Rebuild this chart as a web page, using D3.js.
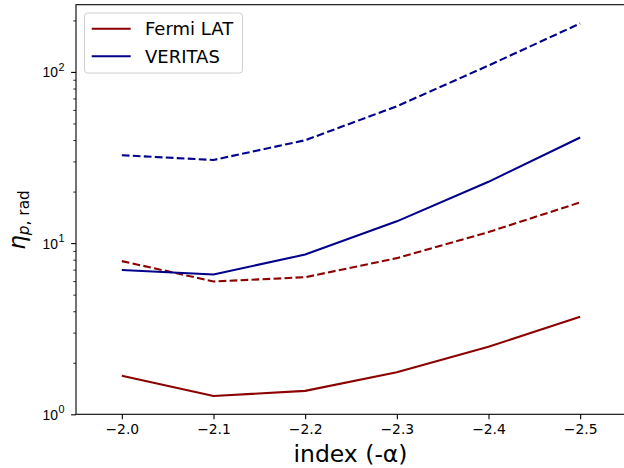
<!DOCTYPE html>
<html>
<head>
<meta charset="utf-8">
<script src="https://cdn.jsdelivr.net/npm/d3@7"></script>
<style>
  body { margin: 0; background: #fff; }
  svg { display: block; font-family: "DejaVu Sans", sans-serif; }
</style>
</head>
<body>
<svg></svg>
<script>
// Data
let indices = [-2.0, -2.1, -2.2, -2.3, -2.4, -2.5];
let fermiSolid = [1.68, 1.28, 1.37, 1.76, 2.48, 3.71];
let fermiDashed = [7.85, 5.97, 6.32, 8.17, 11.6, 17.3];
let veritasSolid = [6.96, 6.56, 8.57, 13.4, 22.8, 41.4];
let veritasDashed = [32.6, 30.6, 39.9, 63, 109, 192];
let xTicks = [-2.0, -2.1, -2.2, -2.3, -2.4, -2.5];
let yTicks = [1, 10, 100];
let legendNames = ['Fermi LAT', 'VERITAS'];

// Dimensions
let width = 624, height = 468;
let padLeft = 76, padTop = 4.7, padRight = 626, padBottom = 414.3;

let svg = d3.select('svg').attr('width', width).attr('height', height);

let xScale = d3.scaleLinear().domain([-1.95, -2.55]).range([padLeft, padRight]);
let yScale = d3.scaleLog().domain([1, 247]).range([padBottom, padTop]);

let red = '#8b0000', blue = '#00008b';

// Lines
let line = d3.line()
    .x((d, i) => xScale(indices[i]))
    .y((d) => yScale(d));

let series = [
    { values: fermiSolid, color: red, dash: null },
    { values: fermiDashed, color: red, dash: '7.7,3.3' },
    { values: veritasSolid, color: blue, dash: null },
    { values: veritasDashed, color: blue, dash: '7.7,3.3' }
];

svg.append('defs').append('clipPath').attr('id', 'clip')
    .append('rect').attr('x', padLeft).attr('y', padTop)
    .attr('width', padRight - padLeft).attr('height', padBottom - padTop);

svg.append('g').attr('clip-path', 'url(#clip)')
    .selectAll('path')
    .data(series)
    .enter()
    .append('path')
    .attr('d', (d) => line(d.values))
    .attr('fill', 'none')
    .attr('stroke', (d) => d.color)
    .attr('stroke-width', 2.1)
    .attr('stroke-dasharray', (d) => d.dash);

// X axis
let xAxis = d3.axisBottom(xScale)
    .tickValues(xTicks)
    .tickSize(4.9)
    .tickPadding(4.9)
    .tickFormat((d) => d3.format('.1f')(d).replace('-', '\u2212'));
let gx = svg.append('g')
    .attr('transform', `translate(0, ${padBottom})`)
    .call(xAxis);
gx.select('.domain').remove();
gx.selectAll('text').attr('font-size', 13.9).attr('fill', '#000')
    .attr('font-family', 'DejaVu Sans');
gx.selectAll('line').attr('stroke', '#000').attr('stroke-width', 1.1);

// Y axis (log, with minor ticks)
let minorTicks = [];
[1, 10, 100].forEach((dec) => {
    for (let k = 2; k <= 9; k++) {
        let v = dec * k;
        if (v <= 247) minorTicks.push(v);
    }
});
let gyMinor = svg.append('g')
    .attr('transform', `translate(${padLeft}, 0)`)
    .call(d3.axisLeft(yScale).tickValues(minorTicks).tickSize(2.8).tickFormat(''));
gyMinor.select('.domain').remove();
gyMinor.selectAll('line').attr('stroke', '#000').attr('stroke-width', 0.8);

let gy = svg.append('g')
    .attr('transform', `translate(${padLeft}, 0)`)
    .call(d3.axisLeft(yScale).tickValues(yTicks).tickSize(4.9).tickPadding(4.9).tickFormat(''));
gy.select('.domain').remove();
gy.selectAll('line').attr('stroke', '#000').attr('stroke-width', 1.1);
gy.selectAll('.tick').append('text')
    .attr('x', -11.5)
    .attr('dy', '0.36em')
    .attr('text-anchor', 'end')
    .attr('fill', '#000')
    .attr('font-size', 13.9)
    .each(function (d) {
        let t = d3.select(this);
        t.append('tspan').text('10');
        t.append('tspan').attr('dx', 0.5).attr('dy', -6.5).attr('font-size', 10.8).text(Math.round(Math.log10(d)));
    });

// Frame
svg.append('rect')
    .attr('x', padLeft).attr('y', padTop)
    .attr('width', padRight - padLeft).attr('height', padBottom - padTop)
    .attr('fill', 'none').attr('stroke', '#000').attr('stroke-width', 1.1);

// Axis labels
svg.append('text')
    .attr('x', 350.5)
    .attr('y', 462)
    .attr('text-anchor', 'middle')
    .attr('font-size', 23.5)
    .attr('fill', '#000')
    .text('index (-\u03b1)');

let yl = svg.append('text')
    .attr('transform', `translate(25, 220) rotate(-90)`)
    .attr('text-anchor', 'middle')
    .attr('fill', '#000');
yl.append('tspan').attr('font-size', 23).attr('font-style', 'italic').text('\u03b7');
yl.append('tspan').attr('font-size', 15.4).attr('dy', 3.5).attr('font-style', 'italic').text('p');
yl.append('tspan').attr('font-size', 15.4).text(', rad');

// Legend
let legend = svg.append('g');
legend.append('rect')
    .attr('x', 84.5).attr('y', 13)
    .attr('width', 158).attr('height', 60)
    .attr('rx', 3)
    .attr('fill', 'rgba(255,255,255,0.8)')
    .attr('stroke', '#d0d0d0')
    .attr('stroke-width', 1);
let legendColors = [red, blue];
legendNames.forEach((name, i) => {
    let y = 28.7 + i * 27.6;
    legend.append('line')
        .attr('x1', 91.7).attr('x2', 130.7)
        .attr('y1', y).attr('y2', y)
        .attr('stroke', legendColors[i]).attr('stroke-width', 2.1);
    legend.append('text')
        .attr('x', 145).attr('y', y)
        .attr('dy', '0.36em')
        .attr('font-size', 18)
        .attr('fill', '#000')
        .text(name);
});
</script>
</body>
</html>
